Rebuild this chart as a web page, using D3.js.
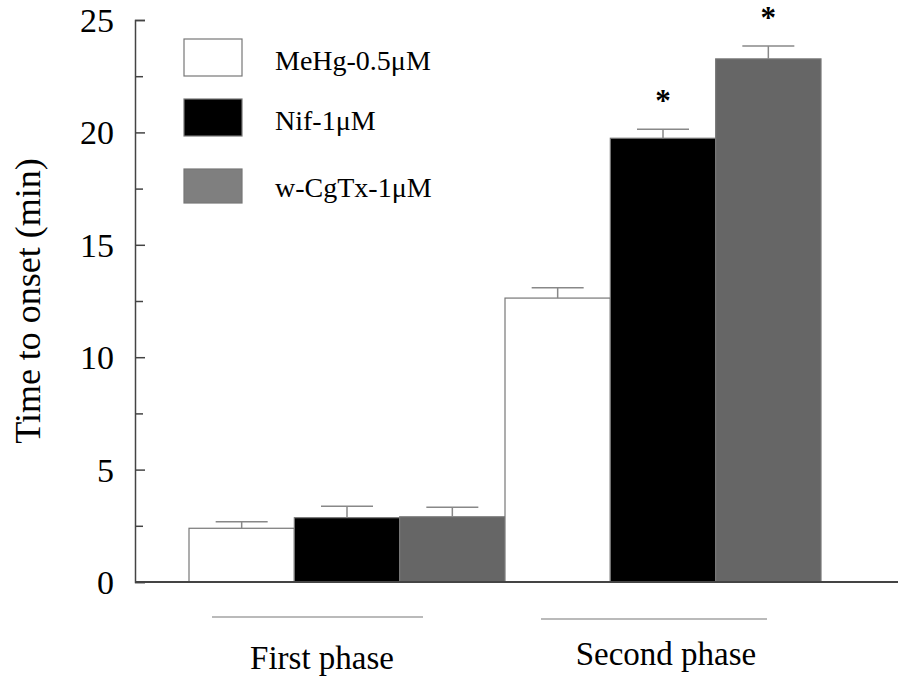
<!DOCTYPE html>
<html>
<head>
<meta charset="utf-8">
<script src="https://cdn.jsdelivr.net/npm/d3@7"></script>
<style>
  body { margin: 0; background: #fff; }
  text { font-family: "Liberation Serif", "Times New Roman", serif; fill: #000; }
</style>
</head>
<body>
<div id="chart-area"></div>
<script>
// data
var phases = ['First phase', 'Second phase'];
var seriesNames = ['MeHg-0.5\u03bcM', 'Nif-1\u03bcM', 'w-CgTx-1\u03bcM'];
var meHgMeans = [2.39, 12.63];
var nifMeans = [2.86, 19.74];
var cgtxMeans = [2.90, 23.27];
var meHgErr = [0.29, 0.46];
var nifErr = [0.51, 0.40];
var cgtxErr = [0.42, 0.57];
var nifSig = [false, true];
var cgtxSig = [false, true];
var yTicks = [0, 5, 10, 15, 20, 25];

var fills = ['#ffffff', '#000000', '#666666'];
var legendFills = ['#ffffff', '#000000', '#7f7f7f'];

var width = 900, height = 679;

var svg = d3.select('#chart-area').append('svg')
    .attr('width', width)
    .attr('height', height);

// scales
var y = d3.scaleLinear()
    .domain([0, 25])
    .range([582, 20]);

var x0 = d3.scaleBand()
    .domain(phases)
    .range([189, 821])
    .padding(0);

var x1 = d3.scaleBand()
    .domain(seriesNames)
    .range([0, x0.bandwidth()])
    .padding(0);

// build rows from the arrays
var means = [meHgMeans, nifMeans, cgtxMeans];
var errs = [meHgErr, nifErr, cgtxErr];
var sigs = [[false, false], nifSig, cgtxSig];
var rows = [];
phases.forEach(function(p, i) {
  seriesNames.forEach(function(s, j) {
    rows.push({ phase: p, series: s, idx: j, value: means[j][i], err: errs[j][i], sig: sigs[j][i] });
  });
});

// y axis (ticks pointing inward)
var yAxis = d3.axisRight(y)
    .tickValues(yTicks)
    .tickSize(10)
    .tickFormat('');
var yg = svg.append('g')
    .attr('transform', 'translate(135,0)')
    .call(yAxis);
yg.select('.domain').attr('stroke', '#444').attr('stroke-width', 1.5);
yg.selectAll('.tick line').attr('stroke', '#444').attr('stroke-width', 1.5);

// minor ticks
var yMinor = d3.axisRight(y)
    .tickValues([2.5, 7.5, 12.5, 17.5, 22.5])
    .tickSize(8)
    .tickFormat('');
var ym = svg.append('g')
    .attr('transform', 'translate(135,0)')
    .call(yMinor);
ym.select('.domain').remove();
ym.selectAll('.tick line').attr('stroke', '#444').attr('stroke-width', 1.5);

// tick labels
svg.selectAll('.ylab')
    .data(yTicks)
  .enter().append('text')
    .attr('class', 'ylab')
    .attr('x', 114)
    .attr('y', function(d) { return y(d) + 12; })
    .attr('text-anchor', 'end')
    .attr('font-size', '34px')
    .text(function(d) { return d; });

// y label
svg.append('text')
    .attr('transform', 'translate(40,301) rotate(-90)')
    .attr('text-anchor', 'middle')
    .attr('font-size', '36px')
    .text('Time to onset (min)');

// bars
svg.selectAll('rect.bar')
    .data(rows)
  .enter().append('rect')
    .attr('class', 'bar')
    .attr('x', function(d) { return x0(d.phase) + x1(d.series); })
    .attr('width', x1.bandwidth())
    .attr('y', function(d) { return y(d.value); })
    .attr('height', function(d) { return y(0) - y(d.value); })
    .attr('fill', function(d) { return fills[d.idx]; })
    .attr('stroke', '#777')
    .attr('stroke-width', 1.2);

// error bars
var eb = svg.selectAll('g.err')
    .data(rows)
  .enter().append('g')
    .attr('class', 'err')
    .attr('transform', function(d) { return 'translate(' + (x0(d.phase) + x1(d.series) + x1.bandwidth() / 2) + ',0)'; });
eb.append('line')
    .attr('x1', 0).attr('x2', 0)
    .attr('y1', function(d) { return y(d.value); })
    .attr('y2', function(d) { return y(d.value + d.err); })
    .attr('stroke', '#888').attr('stroke-width', 1.5);
eb.append('line')
    .attr('x1', -26).attr('x2', 26)
    .attr('y1', function(d) { return y(d.value + d.err); })
    .attr('y2', function(d) { return y(d.value + d.err); })
    .attr('stroke', '#888').attr('stroke-width', 1.5);

// significance stars
svg.selectAll('text.star')
    .data(rows.filter(function(d) { return d.sig; }))
  .enter().append('text')
    .attr('class', 'star')
    .attr('x', function(d) { return x0(d.phase) + x1(d.series) + x1.bandwidth() / 2; })
    .attr('y', function(d) { return y(d.value + d.err) - 18; })
    .attr('text-anchor', 'middle')
    .attr('font-size', '31px')
    .attr('font-weight', 'bold')
    .text('*');

// x axis line
svg.append('line')
    .attr('x1', 135).attr('x2', 898)
    .attr('y1', y(0)).attr('y2', y(0))
    .attr('stroke', '#444').attr('stroke-width', 2);

// phase lines and labels
var lineOff = [[23, 234, 617], [36, 262, 619]];
var labOff = [133, 161];
var labY = [669, 665];
phases.forEach(function(p, i) {
  svg.append('line')
      .attr('x1', x0(p) + lineOff[i][0]).attr('x2', x0(p) + lineOff[i][1])
      .attr('y1', lineOff[i][2]).attr('y2', lineOff[i][2])
      .attr('stroke', '#777').attr('stroke-width', 1.2);
  svg.append('text')
      .attr('x', x0(p) + labOff[i])
      .attr('y', labY[i])
      .attr('text-anchor', 'middle')
      .attr('font-size', '33px')
      .text(p);
});

// legend
var legY = [39, 99, 169];
var leg = svg.selectAll('g.legend')
    .data(seriesNames)
  .enter().append('g')
    .attr('class', 'legend')
    .attr('transform', function(d, i) { return 'translate(184,' + legY[i] + ')'; });
leg.append('rect')
    .attr('width', 58)
    .attr('height', function(d, i) { return i === 2 ? 34 : 37; })
    .attr('fill', function(d, i) { return legendFills[i]; })
    .attr('stroke', '#777')
    .attr('stroke-width', 1.2);
leg.append('text')
    .attr('x', 91)
    .attr('y', function(d, i) { return i === 2 ? 28 : 31; })
    .attr('font-size', '28px')
    .text(function(d) { return d; });
</script>
</body>
</html>
